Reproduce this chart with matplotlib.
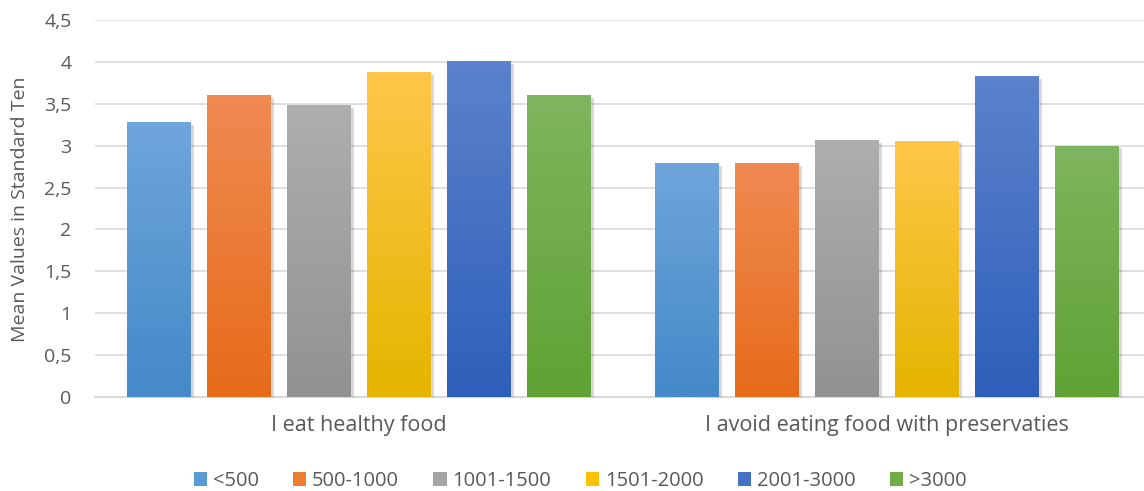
import numpy as np
import matplotlib
matplotlib.use("Agg")
import matplotlib.pyplot as plt
import matplotlib.patheffects as pe
from matplotlib.colors import to_rgb
from matplotlib.patches import Patch

categories = ["I eat healthy food", "I avoid eating food with preservaties"]
series = ["<500", "500-1000", "1001-1500", "1501-2000", "2001-3000", ">3000"]
values = {
    "<500":      [3.28, 2.79],
    "500-1000":  [3.60, 2.79],
    "1001-1500": [3.48, 3.07],
    "1501-2000": [3.88, 3.06],
    "2001-3000": [4.01, 3.83],
    ">3000":     [3.60, 3.00],
}
yticks = [0, 0.5, 1, 1.5, 2, 2.5, 3, 3.5, 4, 4.5]
ytick_labels = ["0", "0,5", "1", "1,5", "2", "2,5", "3", "3,5", "4", "4,5"]

top_colors = ["#6FA5DB", "#F08A52", "#AEAEAE", "#FFC64A", "#5B82CB", "#7FB55E"]
bot_colors = ["#4489C9", "#E66B1A", "#929292", "#E6B400", "#2E5FBA", "#60A235"]
legend_colors = ["#5B9BD5", "#ED7D31", "#A5A5A5", "#FFC000", "#4472C4", "#70AD47"]

plt.rcParams["font.family"] = ["Open Sans", "DejaVu Sans"]
text_color = "#595959"

fig = plt.figure(figsize=(11.44, 4.91), dpi=100)
W, H = 1144, 491
ax = fig.add_axes([95 / W, (H - 397) / H, (1151 - 95) / W, (397 - 20) / H])

x = np.arange(len(categories))
bw = 0.1212
step = 0.1515
n = len(series)
for i, s in enumerate(series):
    pos = x + (i - (n - 1) / 2) * step
    bars = ax.bar(pos, values[s], width=bw, color=bot_colors[i], zorder=3,
                  path_effects=[pe.SimplePatchShadow(offset=(2, -2), shadow_rgbFace="#000000", alpha=0.15), pe.Normal()])
    c1 = np.array(to_rgb(top_colors[i]))
    c2 = np.array(to_rgb(bot_colors[i]))
    t = np.linspace(0, 1, 64)[:, None]
    grad = (c1[None, :] * (1 - t) + c2[None, :] * t)[:, None, :]
    for b in bars:
        bx, by = b.get_x(), b.get_y()
        w, h = b.get_width(), b.get_height()
        im = ax.imshow(grad, extent=(bx, bx + w, by, by + h), aspect="auto",
                       origin="upper", zorder=4, interpolation="bilinear")
        im.set_clip_path(b)

ax.set_xlim(-0.5, 1.5)
ax.set_ylim(0, 4.5)
ax.set_yticks(yticks)
ax.set_yticklabels(ytick_labels)
ax.set_xticks(x)
ax.set_xticklabels(categories)
ax.tick_params(axis="both", length=0, colors=text_color)
ax.tick_params(axis="y", pad=17, labelsize=14)
ax.tick_params(axis="x", pad=13, labelsize=15.5)
ax.grid(axis="y", color="#D9D9D9", linewidth=1.2, zorder=0)
ax.set_axisbelow(True)
for sp in ["top", "right", "left"]:
    ax.spines[sp].set_visible(False)
ax.spines["bottom"].set_color("#D9D9D9")
ax.spines["bottom"].set_linewidth(1.5)
ax.spines["bottom"].set_zorder(2)

fig.text(20 / W, 1 - 209 / H, "Mean Values in Standard Ten", rotation=90,
         ha="center", va="center", fontsize=14, color=text_color)

handles = [Patch(facecolor=c, edgecolor="none") for c in legend_colors]
leg = fig.legend(handles, series, loc="center", bbox_to_anchor=(580 / W, 1 - 481 / H),
                 ncol=6, frameon=False, fontsize=14.5, handlelength=0.65, handleheight=0.65,
                 handletextpad=0.3, columnspacing=1.7, labelcolor=text_color,
                 borderaxespad=0, borderpad=0)

fig.savefig("out.png", dpi=100)
